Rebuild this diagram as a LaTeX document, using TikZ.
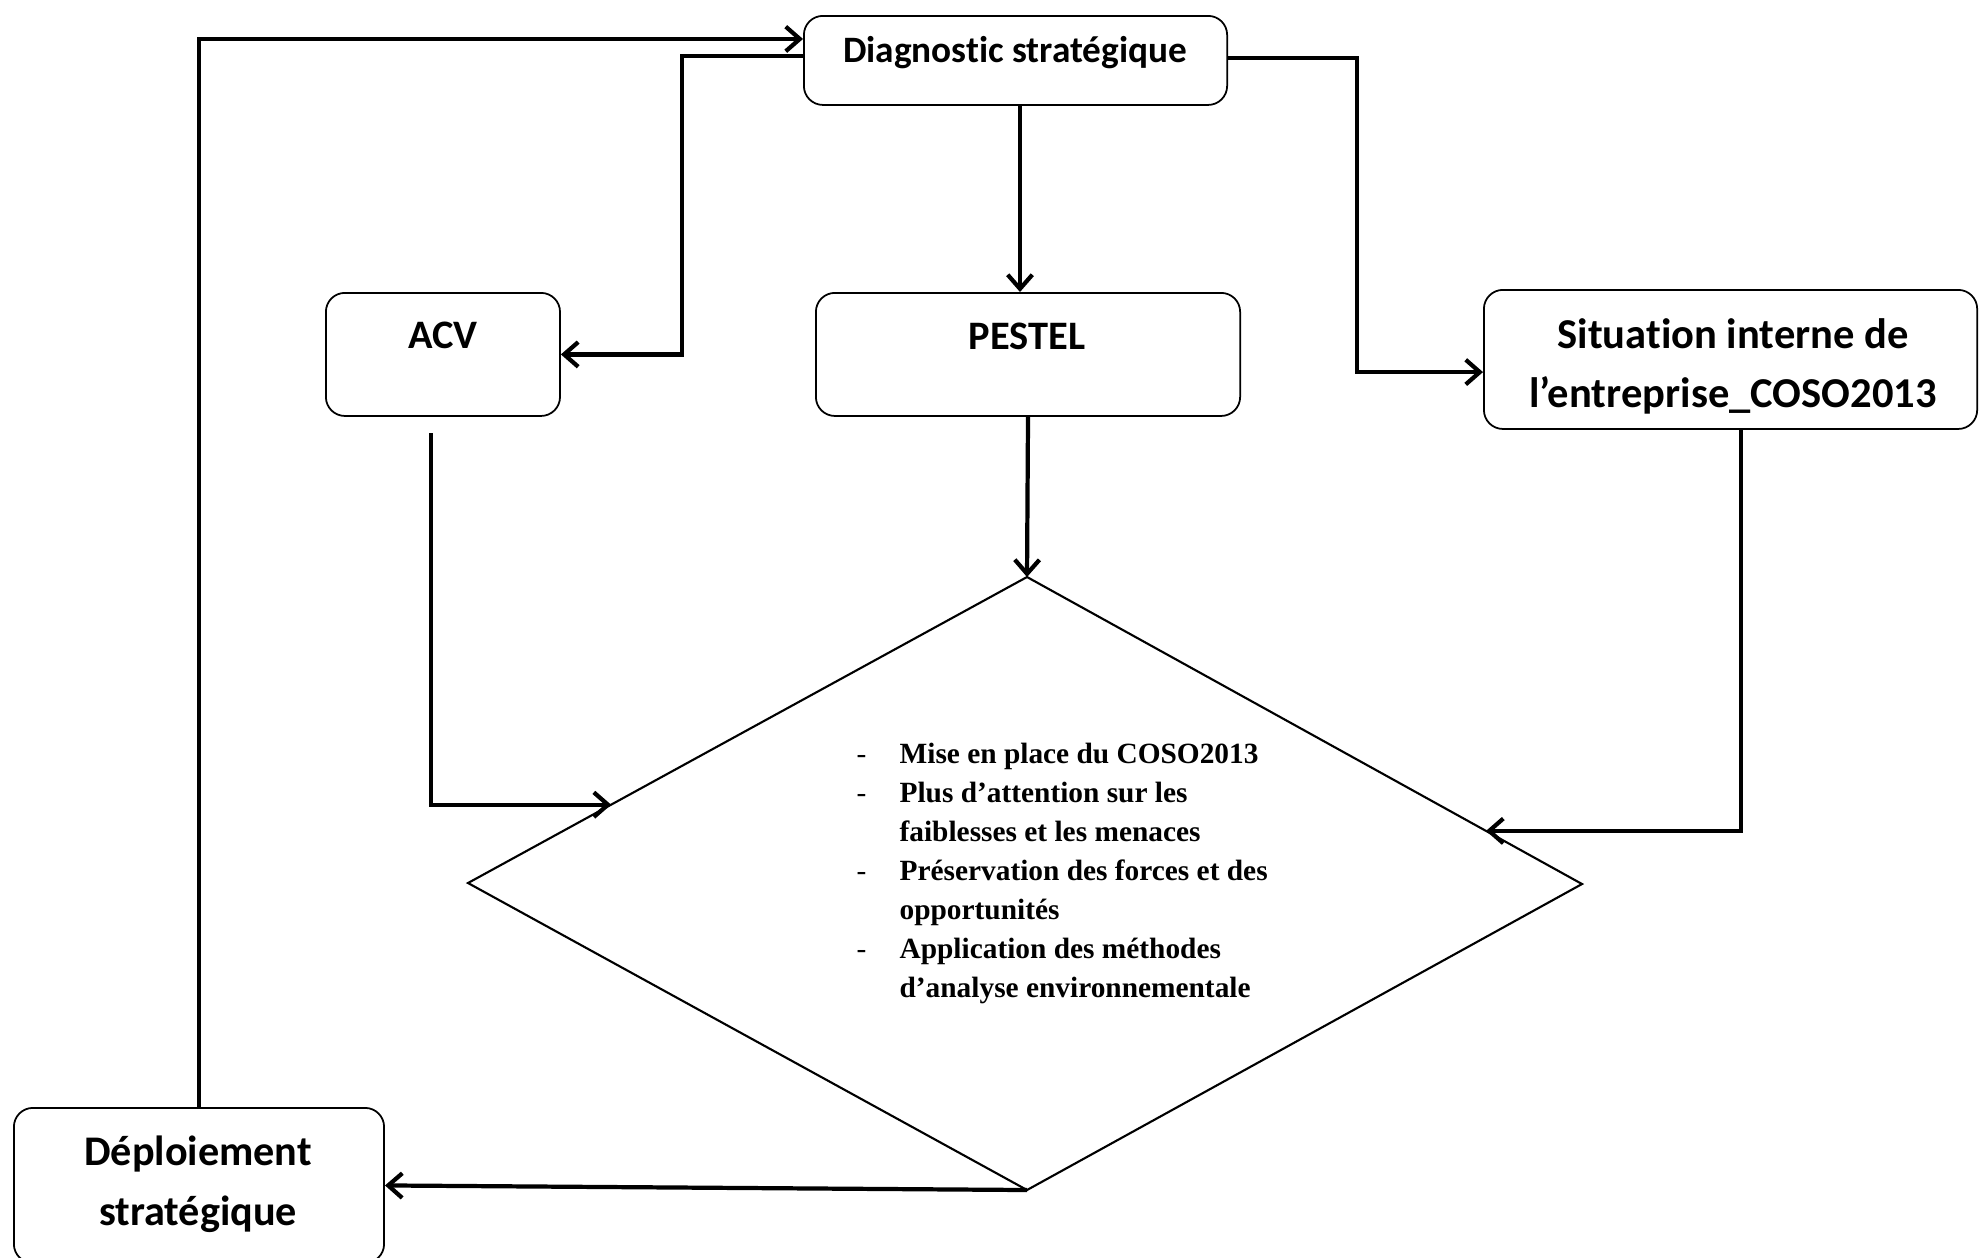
\documentclass[tikz,border=0pt]{standalone}
\usepackage{fontspec}
\setmainfont{Carlito}[Ligatures=NoCommon]
\newfontfamily\tnr{Liberation Serif}
\usetikzlibrary{arrows.meta,calc}
\begin{document}
\begin{tikzpicture}[x=0.01cm,y=-0.01cm,
  box/.style={draw, line width=0.5pt, rounded corners=0.19cm, inner sep=0pt, anchor=north west},
  lbl/.style={inner sep=0pt, align=center},
  conn/.style={line width=1.2pt, -{Straight Barb[length=4pt,width=7pt,line width=1.2pt]}},
  ]
\useasboundingbox (0,0) rectangle (1980,1257);
% boxes
\node[box, minimum width=4.23cm, minimum height=0.89cm] (diag) at (803,15) {};
\node[box, minimum width=2.34cm, minimum height=1.23cm] (acv) at (325,292) {};
\node[box, minimum width=4.24cm, minimum height=1.23cm] (pestel) at (815,292) {};
\node[box, minimum width=4.93cm, minimum height=1.39cm] (sit) at (1483,289) {};
\node[box, minimum width=3.70cm, minimum height=1.55cm] (dep) at (13,1107) {};
% labels
\node[lbl, font=\bfseries\fontsize{10.6}{12}\selectfont] (tdiag) at (1015,53) {Diagnostic stratégique};
\node[lbl, font=\bfseries\fontsize{11.5}{14}\selectfont] (tacv) at (443,335) {ACV};
\node[lbl, font=\bfseries\fontsize{11.5}{14}\selectfont] (tpestel) at (1027,336) {PESTEL};
\node[lbl, font=\bfseries\fontsize{12.1}{16.8}\selectfont] (tsit) at (1733,366) {Situation interne de\\l’entreprise\_COSO2013};
\node[lbl, font=\bfseries\fontsize{12}{17}\selectfont] (tdep) at (198,1184) {Déploiement\\stratégique};
% diamond
\coordinate (dT) at (1027,577);
\coordinate (dR) at (1582,884);
\coordinate (dB) at (1027,1190);
\coordinate (dL) at (468,883);
\draw[line width=0.6pt] (dT) -- (dR) -- (dB) -- (dL) -- cycle;
\coordinate (eL) at ($(dL)!0.256!(dT)$);
\coordinate (eR) at ($(dT)!0.827!(dR)$);
\node[inner sep=0pt, anchor=base west, font=\tnr\fontsize{8.35}{11.1}\selectfont] (list) at (856,763) {%
\renewcommand\arraystretch{1}%
\begin{tabular}[t]{@{}p{12.2pt}@{}l@{}}
- & \bfseries Mise en place du COSO2013\\
- & \bfseries Plus d’attention sur les\\
  & \bfseries faiblesses et les menaces\\
- & \bfseries Préservation des forces et des\\
  & \bfseries opportunités\\
- & \bfseries Application des méthodes\\
  & \bfseries d’analyse environnementale
\end{tabular}};
% connectors
\coordinate (acvs) at (431,433);
\coordinate (dp) at (1020,104);
\draw[conn] (dp) -- (dp |- pestel.north);
\draw[conn] ([yshift=1.3pt]diag.west) -- ++(-121,0) |- (acv.east);
\draw[conn] (dep.north) |- ([yshift=6.1pt]diag.west);
\draw[conn] ([yshift=0.7pt]diag.east) -- ++(129,0) |- ([yshift=-3.6pt]sit.west);
\draw[conn] (pestel.south) -- (dT);
\draw[conn] (acvs) |- (eL);
\draw[conn] ([xshift=3pt]sit.south) |- (eR);
\draw[conn] (dB) -- (dep.east);
\end{tikzpicture}
\end{document}
